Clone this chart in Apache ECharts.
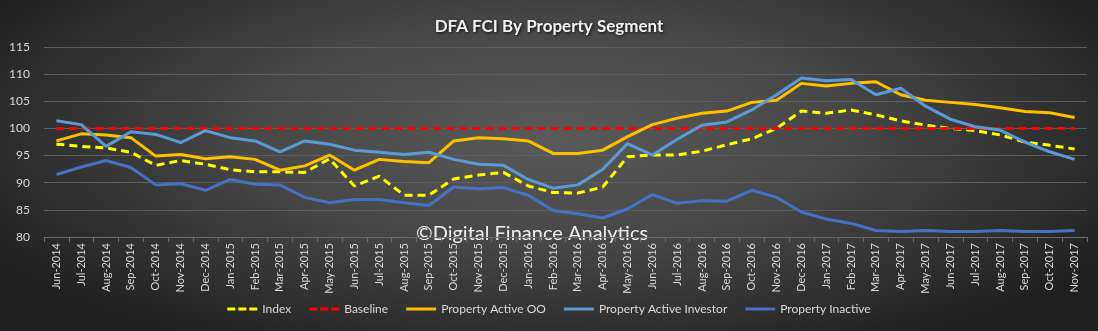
<!DOCTYPE html>
<html>
<head>
<meta charset="utf-8">
<script src="https://cdn.jsdelivr.net/npm/echarts@6/dist/echarts.min.js"></script>
<style>
  html, body { margin: 0; padding: 0; }
  #chart {
    width: 1098px; height: 331px;
    background: radial-gradient(ellipse 60% 75% at 50% 40%, #5a5a5a 0%, #474747 45%, #2e2e2e 80%, #1f1f1f 100%);
  }
</style>
</head>
<body>
<div id="chart"></div>
<script>
const months = ['Jun-2014','Jul-2014','Aug-2014','Sep-2014','Oct-2014','Nov-2014','Dec-2014',
  'Jan-2015','Feb-2015','Mar-2015','Apr-2015','May-2015','Jun-2015','Jul-2015','Aug-2015','Sep-2015',
  'Oct-2015','Nov-2015','Dec-2015','Jan-2016','Feb-2016','Mar-2016','Apr-2016','May-2016','Jun-2016',
  'Jul-2016','Aug-2016','Sep-2016','Oct-2016','Nov-2016','Dec-2016','Jan-2017','Feb-2017','Mar-2017',
  'Apr-2017','May-2017','Jun-2017','Jul-2017','Aug-2017','Sep-2017','Oct-2017','Nov-2017'];

const indexValues = [97.1,96.7,96.4,95.6,93.2,94.1,93.4,92.4,92.0,92.0,91.9,94.4,89.4,91.2,87.7,87.7,
  90.7,91.4,91.9,89.4,88.2,88.1,89.2,94.8,95.1,95.1,95.8,97.0,98.1,100.0,103.2,102.8,103.4,102.5,
  101.4,100.6,100.0,99.6,98.8,97.5,96.9,96.2];

const baselineValues = months.map(() => 100);

const activeOO = [97.7,99.0,98.8,98.3,94.9,95.2,94.4,94.8,94.3,92.3,93.1,95.1,92.3,94.3,93.9,93.7,
  97.7,98.3,98.1,97.7,95.4,95.4,96.0,98.5,100.7,101.9,102.8,103.2,104.8,105.2,108.3,107.8,108.3,108.6,
  106.2,105.2,104.8,104.4,103.8,103.1,102.9,102.0];

const activeInvestor = [101.4,100.7,96.7,99.4,98.9,97.4,99.6,98.3,97.7,95.7,97.7,97.1,96.0,95.6,95.2,95.6,
  94.3,93.4,93.2,90.6,89.0,89.6,92.5,97.2,95.1,98.0,100.6,101.2,103.4,106.2,109.3,108.8,109.0,106.2,
  107.4,104.1,101.7,100.3,99.7,97.5,95.7,94.3];

const inactive = [91.5,92.9,94.1,92.8,89.6,89.8,88.6,90.6,89.7,89.6,87.3,86.3,86.9,86.9,86.3,85.8,
  89.2,88.9,89.1,87.7,84.9,84.3,83.5,85.2,87.8,86.2,86.7,86.6,88.6,87.3,84.6,83.3,82.5,81.2,
  81.0,81.2,81.0,81.0,81.2,81.0,81.0,81.2];

const yTicks = { min: 80, max: 115, step: 5 };

const font = 'Lato, "Open Sans", sans-serif';
const textColor = '#d9d9d9';
const dashIcon = 'path://M0,0 H8 V3 H0 Z M11,0 H19 V3 H11 Z M22,0 H30 V3 H22 Z';

function lineSeries(name, data, color, dashed) {
  return {
    name, type: 'line', data,
    symbol: 'none', smooth: false,
    lineStyle: { color, width: 3, type: dashed ? [8, 5] : 'solid', cap: 'butt' },
    itemStyle: { color },
    emphasis: { disabled: true }
  };
}

const chart = echarts.init(document.getElementById('chart'), null, { renderer: 'canvas' });
chart.setOption({
  backgroundColor: 'transparent',
  animation: false,
  title: {
    text: 'DFA FCI By Property Segment',
    left: 'center', top: 13,
    textStyle: {
      color: '#f2f2f2', fontSize: 17, fontWeight: 'bold', fontFamily: font,
      textShadowColor: 'rgba(0,0,0,0.8)', textShadowBlur: 3, textShadowOffsetX: 1, textShadowOffsetY: 1
    }
  },
  grid: { left: 44, right: 11, top: 47, bottom: 94, containLabel: false },
  legend: {
    bottom: 11, left: 'center',
    itemWidth: 30, itemHeight: 3, itemGap: 18,
    icon: 'rect',
    textStyle: { color: textColor, fontSize: 12, fontFamily: font },
    data: [
      { name: 'Index', icon: dashIcon },
      { name: 'Baseline', icon: dashIcon },
      'Property Active OO', 'Property Active Investor', 'Property Inactive'
    ]
  },
  xAxis: {
    type: 'category', data: months, boundaryGap: true,
    axisLine: { lineStyle: { color: '#6b6b6b' } },
    axisTick: { show: true, alignWithLabel: false, lineStyle: { color: '#6b6b6b' } },
    axisLabel: { rotate: 90, color: textColor, fontSize: 11, fontFamily: font, interval: 0, margin: 6 }
  },
  yAxis: {
    type: 'value', min: yTicks.min, max: yTicks.max, interval: yTicks.step,
    axisLine: { show: false }, axisTick: { show: false },
    splitLine: { lineStyle: { color: '#5e5e5e', width: 1 } },
    axisLabel: { color: textColor, fontSize: 12, fontFamily: font, margin: 14 }
  },
  graphic: [{
    type: 'text', left: 416, top: 224, silent: true,
    style: { text: '©Digital Finance Analytics', fill: '#f0f0f0', font: '20px ' + font }
  }],
  series: [
    lineSeries('Index', indexValues, '#ffff00', true),
    lineSeries('Baseline', baselineValues, '#ff0000', true),
    lineSeries('Property Active OO', activeOO, '#ffc000', false),
    lineSeries('Property Active Investor', activeInvestor, '#5b9bd5', false),
    lineSeries('Property Inactive', inactive, '#4472c4', false)
  ]
});
</script>
</body>
</html>
